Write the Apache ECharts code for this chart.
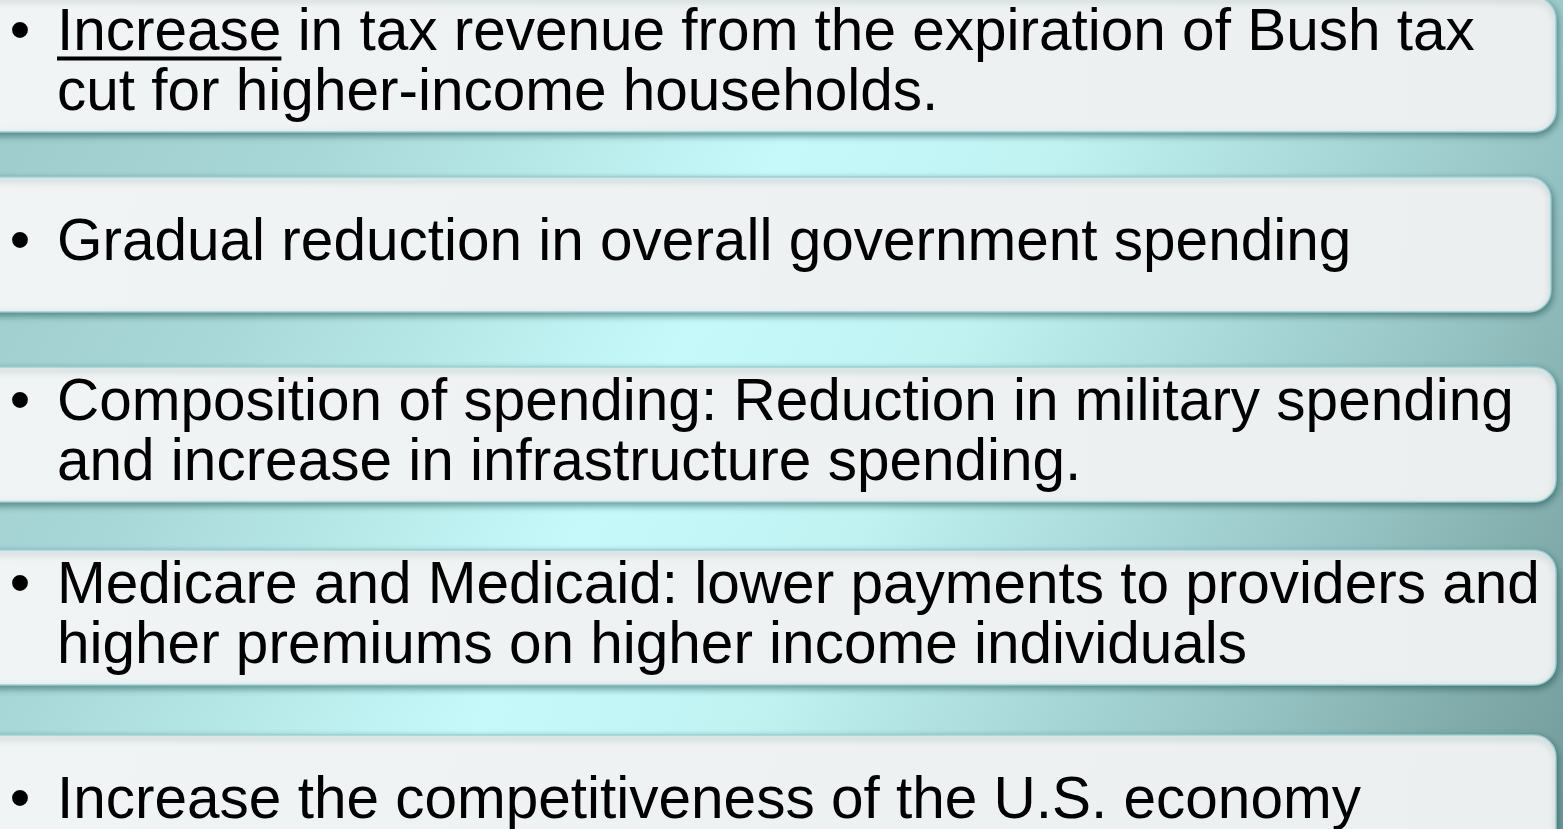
<!DOCTYPE html>
<html>
<head>
<meta charset="utf-8">
<script src="https://cdn.jsdelivr.net/npm/echarts@6/dist/echarts.min.js"></script>
<style>
  html, body { margin: 0; padding: 0; }
  #slide { width: 1563px; height: 829px; }
</style>
</head>
<body>
<div id="slide"></div>
<script>
var dom = document.getElementById('slide');
var chart = echarts.init(dom);

// bullet texts, one array of lines per box
var bulletLines = [
	['Increase in tax revenue from the expiration of Bush tax', 'cut for higher-income households.'],
	['Gradual reduction in overall government spending'],
	['Composition of spending: Reduction in military spending', 'and increase in infrastructure spending.'],
	['Medicare and Medicaid: lower payments to providers and', 'higher premiums on higher income individuals'],
	['Increase the competitiveness of the U.S. economy']
];
var underlined = ['Increase', '', '', '', ''];

// layout of the boxes
var boxTop = [-3, 177, 367, 550, 735];
var boxRight = [1556, 1551, 1556, 1556, 1556];
var boxH = 135;

var font = '58.5px "Liberation Sans", Arial, sans-serif';
var ctx = document.createElement('canvas').getContext('2d');
ctx.font = font;

var elements = [];
bulletLines.forEach(function (lines, i) {
	var top = boxTop[i];
	var mid = top + boxH / 2 - 1;
	elements.push({
		type: 'rect',
		shape: { x: -30, y: top, width: boxRight[i] + 30, height: boxH, r: 22 },
		style: {
			fill: {
				type: 'linear', x: 0, y: 0, x2: 1, y2: 1,
				colorStops: [{ offset: 0, color: '#f1f4f5' }, { offset: 1, color: '#eceff0' }]
			},
			stroke: 'rgba(150,210,215,0.9)',
			lineWidth: 1.5,
			shadowBlur: 7,
			shadowOffsetY: 3,
			shadowOffsetX: 1,
			shadowColor: 'rgba(20,70,70,0.55)'
		}
	});
	var firstY = mid - (lines.length - 1) * 30;
	elements.push({
		type: 'text',
		style: {
			text: '•', x: 20, y: firstY, align: 'center', verticalAlign: 'middle',
			font: font, fill: '#000'
		}
	});
	elements.push({
		type: 'text',
		style: {
			text: lines.join('\n'), x: 57, y: mid, verticalAlign: 'middle',
			font: font, lineHeight: 60, fill: '#000'
		}
	});
	if (underlined[i]) {
		var w = ctx.measureText(underlined[i]).width;
		elements.push({
			type: 'rect',
			shape: { x: 57, y: firstY + 23, width: w, height: 4 },
			style: { fill: '#000' }
		});
	}
});

var option = {
	backgroundColor: {
		type: 'linear', x: 0, y: 0, x2: 1, y2: 1,
		colorStops: [
			{ offset: 0, color: '#9cc9c9' },
			{ offset: 0.2, color: '#a9d8d8' },
			{ offset: 0.43, color: '#c6fafa' },
			{ offset: 0.57, color: '#c0f2f2' },
			{ offset: 0.78, color: '#9ccaca' },
			{ offset: 1, color: '#729a9a' }
		]
	},
	graphic: { elements: elements }
};

chart.setOption(option);
</script>
</body>
</html>
